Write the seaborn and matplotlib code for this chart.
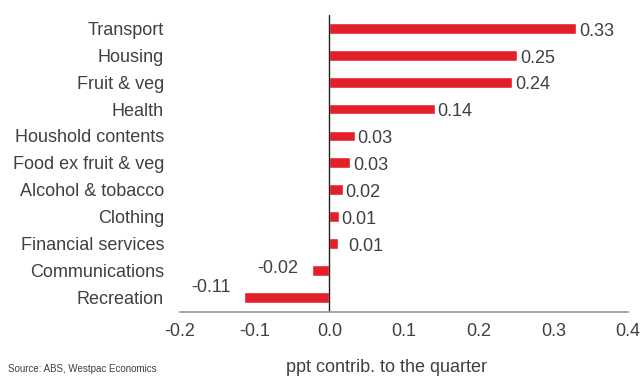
import matplotlib
matplotlib.use('Agg')
import matplotlib.pyplot as plt
import seaborn as sns
import pandas as pd

categories = ['Transport', 'Housing', 'Fruit & veg', 'Health', 'Houshold contents',
              'Food ex fruit & veg', 'Alcohol & tobacco', 'Clothing', 'Financial services',
              'Communications', 'Recreation']
contrib = [0.331, 0.252, 0.245, 0.141, 0.034, 0.028, 0.018, 0.0125, 0.011, -0.023, -0.114]
value_labels = ['0.33', '0.25', '0.24', '0.14', '0.03', '0.03', '0.02', '0.01', '0.01', '-0.02', '-0.11']
x_ticks = [-0.2, -0.1, 0.0, 0.1, 0.2, 0.3, 0.4]

RED = '#e3202a'
TXT = '#404040'
FS = 13

sns.set_theme(style='white')
plt.rcParams['font.family'] = ['Liberation Sans', 'DejaVu Sans']

df = pd.DataFrame({'cat': categories, 'val': contrib})

fig = plt.figure(figsize=(6.42, 3.76), dpi=100)
ax = fig.add_axes([180 / 642, 1 - 312 / 376, 448 / 642, 297 / 376])
sns.barplot(data=df, x='val', y='cat', color=RED, saturation=1, width=0.4, ax=ax)

ax.set_xlim(-0.2, 0.4)
ax.set_ylim(10.55, -0.5)
ax.set_xticks(x_ticks)
ax.set_xticklabels(['%.1f' % t for t in x_ticks], fontsize=FS, color=TXT)
ax.tick_params(axis='x', direction='out', length=4, width=1, color='#999999', pad=4)
ax.tick_params(axis='y', length=0, pad=11.5, labelsize=FS, labelcolor=TXT)
ax.set_xlabel('')
ax.set_ylabel('')
for s in ['top', 'right', 'left']:
    ax.spines[s].set_visible(False)
ax.spines['bottom'].set_color('#999999')
ax.axvline(0, color='#222222', lw=1)

# value labels
for i, (v, lab) in enumerate(zip(contrib, value_labels)):
    if v >= 0:
        dx = 8 if i == 8 else 2
        ax.annotate(lab, (v, i), xytext=(dx, -2), textcoords='offset points',
                    ha='left', va='center', fontsize=FS, color=TXT)
    else:
        dy = 7 if i == 10 else 1
        ax.annotate(lab, (v, i), xytext=(-10, dy), textcoords='offset points',
                    ha='right', va='center', fontsize=FS, color=TXT)

fig.text(387 / 642, 1 - 368 / 376, 'ppt contrib. to the quarter', ha='center', va='center',
         fontsize=FS, color=TXT)
fig.text(8 / 642, 1 - 369 / 376, 'Source: ABS, Westpac Economics', ha='left', va='center',
         fontsize=7, color=TXT)

fig.savefig('out.png', dpi=100)
